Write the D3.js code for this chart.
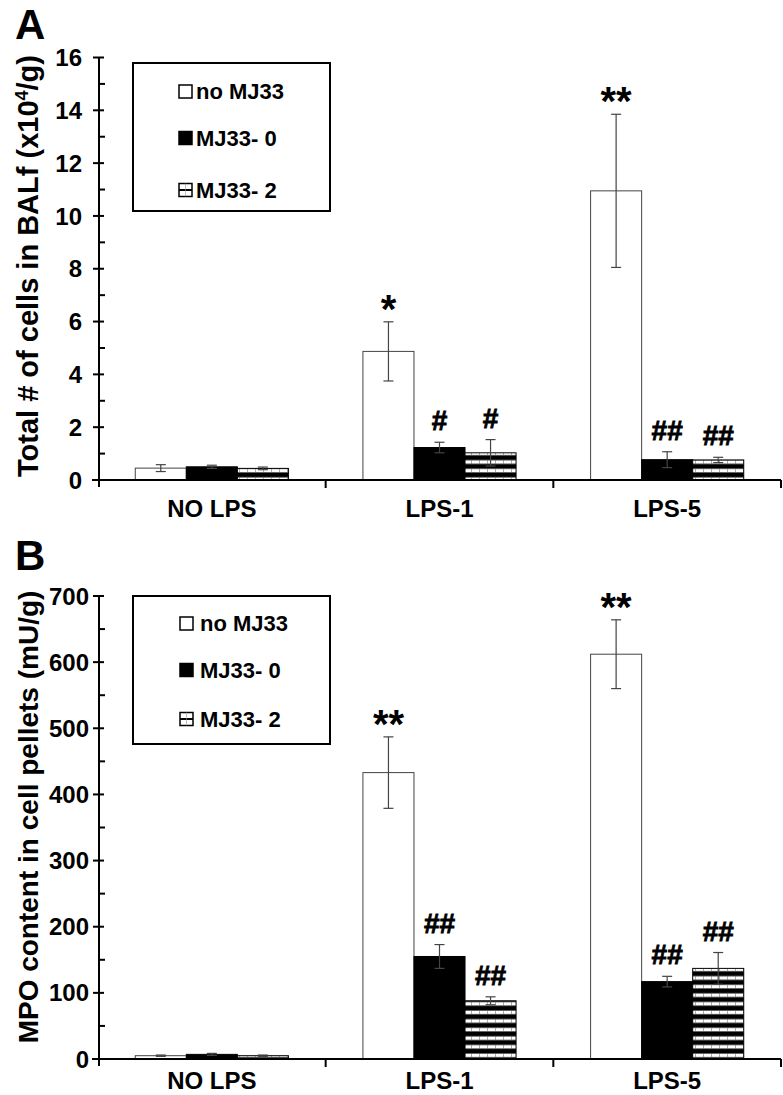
<!DOCTYPE html>
<html><head><meta charset="utf-8">
<script src="https://cdn.jsdelivr.net/npm/d3@7"></script>
<style>body{margin:0;background:#fff}svg{display:block}text{font-family:"Liberation Sans",Arial,sans-serif;font-weight:bold;fill:#000}</style>
</head><body><svg id="c" width="783" height="1095"></svg>
<script>
const categories = ["NO LPS", "LPS-1", "LPS-5"];
const series = ["no MJ33", "MJ33- 0", "MJ33- 2"];
// Panel A: total cells in BALf (x10^4/g)
const cellsNoMJ33 = [0.45, 4.87, 10.95];
const cellsNoMJ33Err = [0.13, 1.12, 2.9];
const cellsMJ33_0 = [0.50, 1.23, 0.77];
const cellsMJ33_0Err = [0.06, 0.20, 0.30];
const cellsMJ33_2 = [0.44, 1.03, 0.76];
const cellsMJ33_2Err = [0.05, 0.50, 0.10];
const cellsSig = [["", "", ""], ["*", "#", "#"], ["**", "##", "##"]];
const cellsTicks = [0, 2, 4, 6, 8, 10, 12, 14, 16];
// Panel B: MPO content in cell pellets (mU/g)
const mpoNoMJ33 = [5, 433, 612];
const mpoNoMJ33Err = [1, 54, 52];
const mpoMJ33_0 = [7, 155, 117];
const mpoMJ33_0Err = [1.5, 18, 8];
const mpoMJ33_2 = [5, 88, 137];
const mpoMJ33_2Err = [1, 6, 24];
const mpoSig = [["", "", ""], ["**", "##", "##"], ["**", "##", "##"]];
const mpoTicks = [0, 100, 200, 300, 400, 500, 600, 700];

const svg = d3.select("#c");
const defs = svg.append("defs");
const pat = defs.append("pattern").attr("id", "stripe").attr("patternUnits", "userSpaceOnUse")
  .attr("width", 8).attr("height", 8.6);
pat.append("rect").attr("width", 8).attr("height", 8.6).attr("fill", "#000");
pat.append("rect").attr("y", 4.4).attr("width", 8).attr("height", 3.6).attr("fill", "#fff");
pat.append("line").attr("x1", 7.5).attr("x2", 7.5).attr("y1", 4.4).attr("y2", 8).attr("stroke", "#777").attr("stroke-width", 0.6);

const fills = ["#fff", "#000", "url(#stripe)"];
const strokes = ["#444", "#000", "#000"];

function panel(cfg) {
  const g = svg.append("g");
  const x = d3.scaleBand().domain(categories).range([98, 781]).padding(0);
  const xs = d3.scaleBand().domain(series).range([0, x.bandwidth()]).paddingInner(0).paddingOuter(0.73);
  const y = d3.scaleLinear().domain([0, cfg.max]).range([cfg.y0, cfg.y1]);
  const rows = [];
  categories.forEach((c, ci) => series.forEach((s, si) => {
    rows.push({c, s, si, v: cfg.vals[si][ci], e: cfg.errs[si][ci], sig: cfg.sig[ci][si]});
  }));
  g.selectAll("rect.bar").data(rows).join("rect").attr("class", "bar")
    .attr("x", d => x(d.c) + xs(d.s)).attr("width", xs.bandwidth())
    .attr("y", d => y(d.v)).attr("height", d => y(0) - y(d.v))
    .attr("fill", d => fills[d.si]).attr("stroke", d => strokes[d.si]).attr("stroke-width", 1);
  const eb = g.selectAll("g.eb").data(rows).join("g").attr("class", "eb")
    .attr("stroke", "#444").attr("stroke-width", 1.2);
  const cx = d => x(d.c) + xs(d.s) + xs.bandwidth() / 2;
  eb.append("line").attr("x1", cx).attr("x2", cx).attr("y1", d => y(d.v - d.e)).attr("y2", d => y(d.v + d.e));
  eb.append("line").attr("x1", d => cx(d) - 5).attr("x2", d => cx(d) + 5).attr("y1", d => y(d.v + d.e)).attr("y2", d => y(d.v + d.e));
  eb.append("line").attr("x1", d => cx(d) - 5).attr("x2", d => cx(d) + 5).attr("y1", d => y(d.v - d.e)).attr("y2", d => y(d.v - d.e));
  g.selectAll("text.sig").data(rows.filter(d => d.sig)).join("text").attr("class", "sig")
    .attr("text-anchor", "middle").attr("x", cx)
    .attr("y", d => d.sig.startsWith("*") ? y(d.v + d.e) + 1 : y(d.v + d.e) - 12)
    .style("font-size", d => d.sig.startsWith("*") ? "40px" : "28px")
    .attr("stroke", d => d.sig.startsWith("#") ? "#000" : "none").attr("stroke-width", 0.8)
    .text(d => d.sig);
  const ax = g.append("g").attr("stroke", "#000");
  ax.append("line").attr("x1", 99).attr("x2", 99).attr("y1", cfg.y1).attr("y2", cfg.y0 + 7).attr("stroke-width", 2);
  const minor = d3.range(0, cfg.max + 1e-9, cfg.minor).filter(v => !cfg.ticks.includes(v));
  ax.selectAll("line.mj").data(cfg.ticks).join("line").attr("class", "mj")
    .attr("x1", 93).attr("x2", 104).attr("y1", d => y(d)).attr("y2", d => y(d)).attr("stroke-width", 2);
  ax.selectAll("line.mn").data(minor).join("line").attr("class", "mn")
    .attr("x1", 99).attr("x2", 105).attr("y1", d => y(d)).attr("y2", d => y(d)).attr("stroke-width", 2);
  g.selectAll("text.tl").data(cfg.ticks).join("text").attr("class", "tl")
    .attr("x", cfg.labelX).attr("y", d => y(d)).attr("dy", "0.36em").attr("text-anchor", "end")
    .style("font-size", "24px").text(d => d);
  ax.append("line").attr("x1", 92).attr("x2", 781).attr("y1", y(0)).attr("y2", y(0)).attr("stroke-width", 2);
  ax.selectAll("line.xt").data(categories.slice(1).map(c => x(c)).concat([781])).join("line").attr("class", "xt")
    .attr("x1", d => d).attr("x2", d => d).attr("y1", y(0)).attr("y2", y(0) + 8).attr("stroke-width", 2);
  g.selectAll("text.cl").data(categories).join("text").attr("class", "cl")
    .attr("x", d => x(d) + x.bandwidth() / 2).attr("y", y(0) + cfg.catDy).attr("text-anchor", "middle")
    .style("font-size", "24px").text(d => d);
  const t = g.append("text").attr("transform", `translate(${cfg.titleX},${cfg.titleY}) rotate(-90)`)
    .attr("text-anchor", "middle").style("font-size", cfg.titleSize + "px");
  cfg.title(t);
  g.append("text").attr("x", 15).attr("y", cfg.letterY).style("font-size", "42px").text(cfg.letter);
  const lg = g.append("g");
  lg.append("rect").attr("x", 133).attr("y", cfg.legY0).attr("width", 197).attr("height", cfg.legY1 - cfg.legY0)
    .attr("fill", "#fff").attr("stroke", "#000").attr("stroke-width", 2);
  const items = lg.selectAll("g.li").data(series).join("g").attr("class", "li")
    .attr("transform", (d, i) => `translate(0,${cfg.legRows[i]})`);
  items.each(function (d, i) {
    const it = d3.select(this);
    const sx = cfg.swX;
    if (i === 0) it.append("rect").attr("x", sx).attr("y", -6.5).attr("width", 13).attr("height", 13).attr("fill", "#fff").attr("stroke", "#000").attr("stroke-width", 1.5);
    else if (i === 1) it.append("rect").attr("x", sx - 0.75).attr("y", -7.25).attr("width", 14.5).attr("height", 14.5).attr("fill", "#000");
    else {
      it.append("rect").attr("x", sx).attr("y", -6.5).attr("width", 13).attr("height", 13).attr("fill", "#fff").attr("stroke", "#000").attr("stroke-width", 1.5);
      it.append("line").attr("x1", sx).attr("x2", sx + 13).attr("y1", 0).attr("y2", 0).attr("stroke", "#000").attr("stroke-width", 2);
      it.append("line").attr("x1", sx + 6.5).attr("x2", sx + 6.5).attr("y1", -6.5).attr("y2", 6.5).attr("stroke", "#999").attr("stroke-width", 0.6);
    }
    it.append("text").attr("x", cfg.txX).attr("y", 0).attr("dy", "0.36em").style("font-size", "22px").text(d);
  });
}

panel({
  max: 16, y0: 480, y1: 57.5, ticks: cellsTicks, minor: 1, labelX: 82,
  vals: [cellsNoMJ33, cellsMJ33_0, cellsMJ33_2], errs: [cellsNoMJ33Err, cellsMJ33_0Err, cellsMJ33_2Err], sig: cellsSig,
  catDy: 37, titleX: 38, titleY: 266, titleSize: 29, letter: "A", letterY: 39,
  title: t => { t.append("tspan").text("Total # of cells in BALf (x10");
    t.append("tspan").attr("baseline-shift", "super").style("font-size", "18px").text("4");
    t.append("tspan").text("/g)"); },
  legY0: 63, legY1: 211, legRows: [91.5, 138, 190], swX: 179, txX: 196
});
panel({
  max: 700, y0: 1059, y1: 596, ticks: mpoTicks, minor: 50, labelX: 89,
  vals: [mpoNoMJ33, mpoMJ33_0, mpoMJ33_2], errs: [mpoNoMJ33Err, mpoMJ33_0Err, mpoMJ33_2Err], sig: mpoSig,
  catDy: 30, titleX: 38, titleY: 817, titleSize: 28, letter: "B", letterY: 570,
  title: t => t.text("MPO content in cell pellets (mU/g)"),
  legY0: 596, legY1: 744, legRows: [623.5, 670, 719], swX: 180, txX: 200
});
</script></body></html>
